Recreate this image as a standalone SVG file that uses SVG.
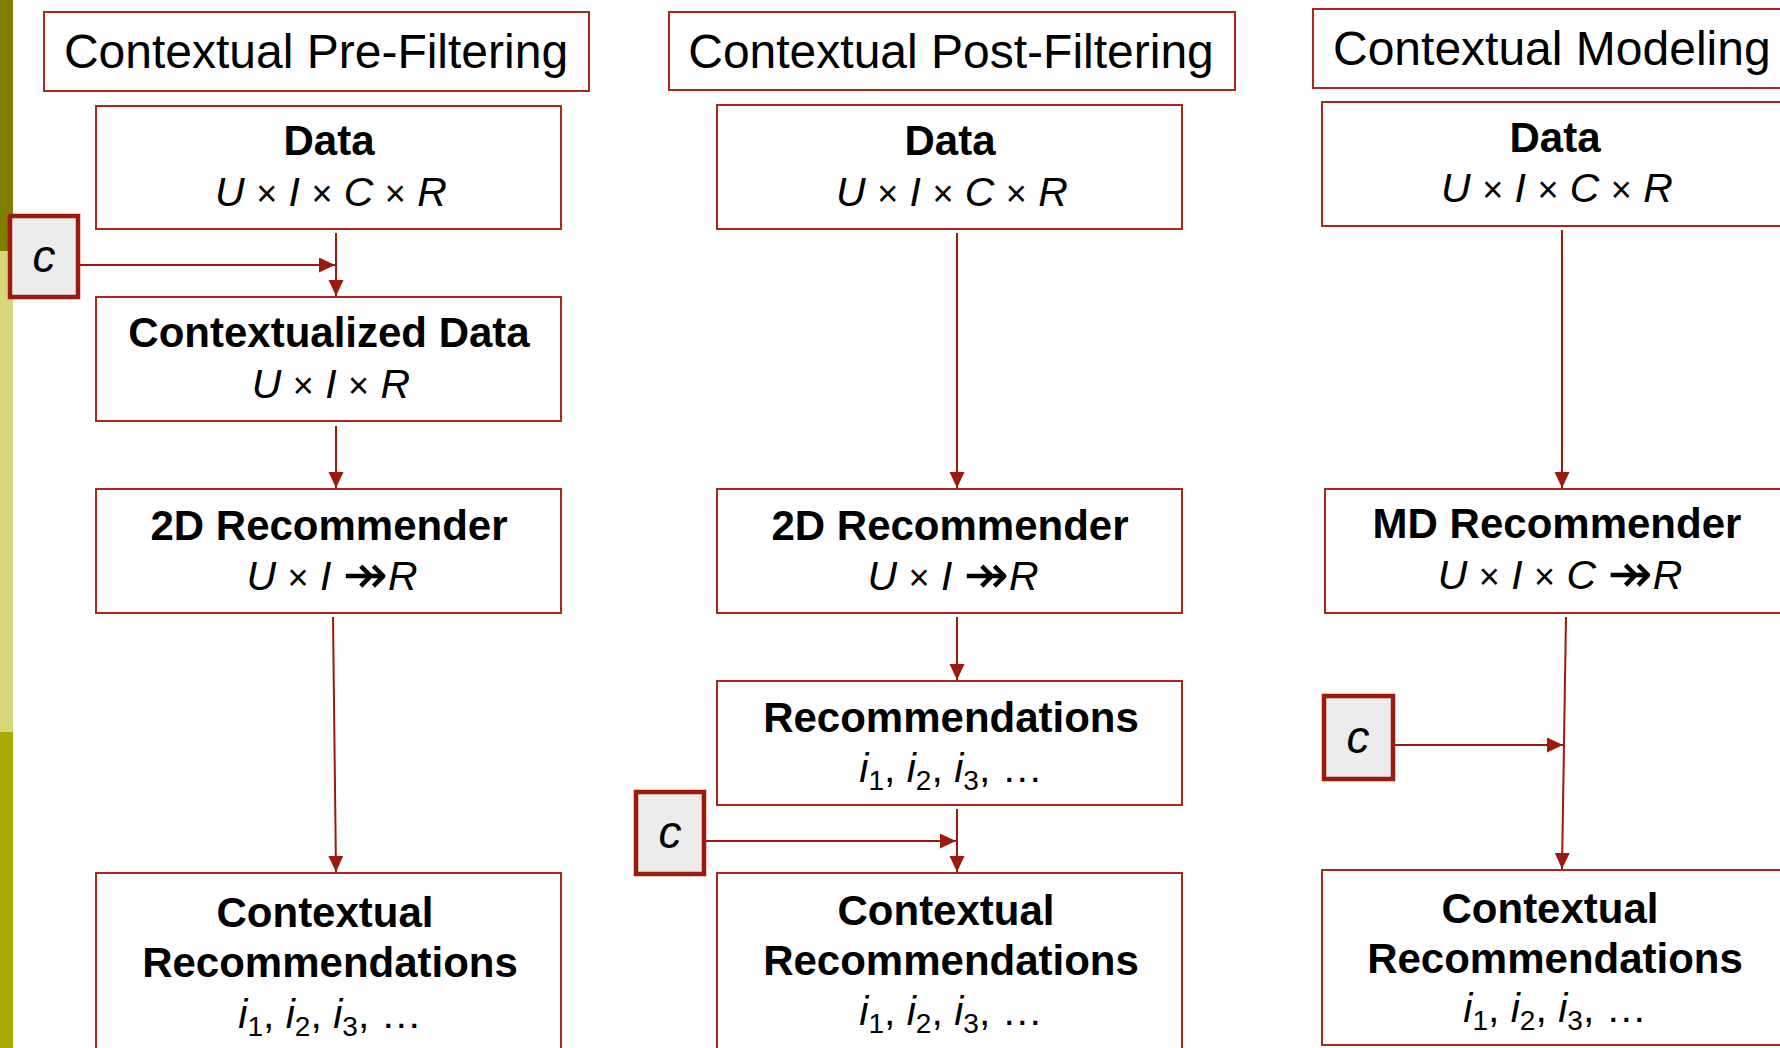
<svg xmlns="http://www.w3.org/2000/svg" width="1780" height="1048" viewBox="0 0 1780 1048">
  <style>
    .box { fill: #ffffff; stroke: #a8291d; stroke-width: 2; }
    .ctx { fill: #ececec; stroke: #9b1a0b; stroke-width: 4.5; }
    .head { font-family: "Liberation Sans", Arial, sans-serif; font-size: 48px; fill: #000; }
    .name { font-family: "Liberation Sans", Arial, sans-serif; font-size: 42px; font-weight: bold; fill: #000; text-anchor: middle; }
    .math { font-family: "Liberation Sans", Arial, sans-serif; font-size: 41px; fill: #000; text-anchor: middle; }
    .it { font-style: italic; }
    .x { font-size: 36px; }
    .sub { font-size: 28px; }
    .arr { font-family: "DejaVu Sans", sans-serif; font-style: normal; font-size: 54px; }
    .cvar { font-family: "Liberation Sans", Arial, sans-serif; font-size: 46px; font-style: italic; fill: #000; text-anchor: middle; }
    .link { fill: none; stroke: #9b1a0b; stroke-width: 2; }
  </style>
  <defs>
    <marker id="tip" markerUnits="userSpaceOnUse" markerWidth="16" markerHeight="16" refX="16" refY="7.5" orient="auto">
      <path d="M0,0 L16,7.5 L0,15 Z" fill="#9b1a0b"/>
    </marker>
  </defs>

  <!-- side strip -->
  <g id="strip">
    <rect x="0" y="0" width="13" height="251" fill="#7f7f00"/>
    <rect x="0" y="251" width="13" height="481" fill="#d6d67a"/>
    <rect x="0" y="732" width="13" height="316" fill="#aaaa00"/>
  </g>

  <!-- column 1: pre-filtering -->
  <g id="title-pre">
    <rect class="box" x="44" y="12" width="545" height="79"/>
    <text class="head" x="316" y="68" text-anchor="middle">Contextual Pre-Filtering</text>
  </g>
  <g id="data-pre">
    <rect class="box" x="96" y="106" width="465" height="123"/>
    <text class="name" x="329" y="155">Data</text>
    <text class="math" x="331" y="206"><tspan class="it">U</tspan> <tspan class="x">×</tspan> <tspan class="it">I</tspan> <tspan class="x">×</tspan> <tspan class="it">C</tspan> <tspan class="x">×</tspan> <tspan class="it">R</tspan></text>
  </g>
  <g id="c-pre">
    <rect class="ctx" x="10" y="216" width="68" height="81"/>
    <text class="cvar" x="44" y="272">c</text>
  </g>
  <g id="ctxdata-pre">
    <rect class="box" x="96" y="297" width="465" height="124"/>
    <text class="name" x="329" y="347">Contextualized Data</text>
    <text class="math" x="331" y="398"><tspan class="it">U</tspan> <tspan class="x">×</tspan> <tspan class="it">I</tspan> <tspan class="x">×</tspan> <tspan class="it">R</tspan></text>
  </g>
  <g id="rec2d-pre">
    <rect class="box" x="96" y="489" width="465" height="124"/>
    <text class="name" x="329" y="540">2D Recommender</text>
    <text class="math" x="332" y="590"><tspan class="it">U</tspan> <tspan class="x">×</tspan> <tspan class="it">I</tspan> <tspan class="arr" dy="3">↠</tspan><tspan class="it" dy="-3">R</tspan></text>
  </g>
  <g id="out-pre">
    <rect class="box" x="96" y="873" width="465" height="185"/>
    <text class="name" x="325" y="927">Contextual</text>
    <text class="name" x="330" y="977">Recommendations</text>
    <text class="math" x="330" y="1028"><tspan class="it">i</tspan><tspan class="sub" dy="8">1</tspan><tspan dy="-8">, </tspan><tspan class="it">i</tspan><tspan class="sub" dy="8">2</tspan><tspan dy="-8">, </tspan><tspan class="it">i</tspan><tspan class="sub" dy="8">3</tspan><tspan dy="-8">, …</tspan></text>
  </g>

  <!-- column 2: post-filtering -->
  <g id="title-post">
    <rect class="box" x="669" y="12" width="566" height="78"/>
    <text class="head" x="951" y="68" text-anchor="middle">Contextual Post-Filtering</text>
  </g>
  <g id="data-post">
    <rect class="box" x="717" y="105" width="465" height="124"/>
    <text class="name" x="950" y="155">Data</text>
    <text class="math" x="952" y="206"><tspan class="it">U</tspan> <tspan class="x">×</tspan> <tspan class="it">I</tspan> <tspan class="x">×</tspan> <tspan class="it">C</tspan> <tspan class="x">×</tspan> <tspan class="it">R</tspan></text>
  </g>
  <g id="rec2d-post">
    <rect class="box" x="717" y="489" width="465" height="124"/>
    <text class="name" x="950" y="540">2D Recommender</text>
    <text class="math" x="953" y="590"><tspan class="it">U</tspan> <tspan class="x">×</tspan> <tspan class="it">I</tspan> <tspan class="arr" dy="3">↠</tspan><tspan class="it" dy="-3">R</tspan></text>
  </g>
  <g id="recs-post">
    <rect class="box" x="717" y="681" width="465" height="124"/>
    <text class="name" x="951" y="732">Recommendations</text>
    <text class="math" x="951" y="782"><tspan class="it">i</tspan><tspan class="sub" dy="8">1</tspan><tspan dy="-8">, </tspan><tspan class="it">i</tspan><tspan class="sub" dy="8">2</tspan><tspan dy="-8">, </tspan><tspan class="it">i</tspan><tspan class="sub" dy="8">3</tspan><tspan dy="-8">, …</tspan></text>
  </g>
  <g id="c-post">
    <rect class="ctx" x="636" y="792" width="68" height="82"/>
    <text class="cvar" x="670" y="848">c</text>
  </g>
  <g id="out-post">
    <rect class="box" x="717" y="873" width="465" height="185"/>
    <text class="name" x="946" y="925">Contextual</text>
    <text class="name" x="951" y="975">Recommendations</text>
    <text class="math" x="951" y="1025"><tspan class="it">i</tspan><tspan class="sub" dy="8">1</tspan><tspan dy="-8">, </tspan><tspan class="it">i</tspan><tspan class="sub" dy="8">2</tspan><tspan dy="-8">, </tspan><tspan class="it">i</tspan><tspan class="sub" dy="8">3</tspan><tspan dy="-8">, …</tspan></text>
  </g>

  <!-- column 3: contextual modeling -->
  <g id="title-model">
    <rect class="box" x="1313" y="9" width="490" height="79"/>
    <text class="head" x="1333" y="65">Contextual Modeling</text>
  </g>
  <g id="data-model">
    <rect class="box" x="1322" y="102" width="465" height="124"/>
    <text class="name" x="1555" y="152">Data</text>
    <text class="math" x="1557" y="202"><tspan class="it">U</tspan> <tspan class="x">×</tspan> <tspan class="it">I</tspan> <tspan class="x">×</tspan> <tspan class="it">C</tspan> <tspan class="x">×</tspan> <tspan class="it">R</tspan></text>
  </g>
  <g id="recmd-model">
    <rect class="box" x="1325" y="489" width="465" height="124"/>
    <text class="name" x="1557" y="538">MD Recommender</text>
    <text class="math" x="1560" y="589"><tspan class="it">U</tspan> <tspan class="x">×</tspan> <tspan class="it">I</tspan> <tspan class="x">×</tspan> <tspan class="it">C</tspan> <tspan class="arr" dy="3">↠</tspan><tspan class="it" dy="-3">R</tspan></text>
  </g>
  <g id="c-model">
    <rect class="ctx" x="1324" y="696" width="69" height="83"/>
    <text class="cvar" x="1358" y="753">c</text>
  </g>
  <g id="out-model">
    <rect class="box" x="1322" y="870" width="465" height="175"/>
    <text class="name" x="1550" y="923">Contextual</text>
    <text class="name" x="1555" y="973">Recommendations</text>
    <text class="math" x="1555" y="1022"><tspan class="it">i</tspan><tspan class="sub" dy="8">1</tspan><tspan dy="-8">, </tspan><tspan class="it">i</tspan><tspan class="sub" dy="8">2</tspan><tspan dy="-8">, </tspan><tspan class="it">i</tspan><tspan class="sub" dy="8">3</tspan><tspan dy="-8">, …</tspan></text>
  </g>

  <!-- connectors -->
  <g id="connectors">
    <line class="link" x1="336" y1="233" x2="336" y2="296" marker-end="url(#tip)"/>
    <line class="link" x1="78" y1="265" x2="335" y2="265" marker-end="url(#tip)"/>
    <line class="link" x1="336" y1="426" x2="336" y2="488" marker-end="url(#tip)"/>
    <line class="link" x1="333" y1="617" x2="336" y2="872" marker-end="url(#tip)"/>

    <line class="link" x1="957" y1="233" x2="957" y2="488" marker-end="url(#tip)"/>
    <line class="link" x1="957" y1="617" x2="957" y2="680" marker-end="url(#tip)"/>
    <line class="link" x1="957" y1="809" x2="957" y2="872" marker-end="url(#tip)"/>
    <line class="link" x1="704" y1="841" x2="956" y2="841" marker-end="url(#tip)"/>

    <line class="link" x1="1562" y1="230" x2="1562" y2="488" marker-end="url(#tip)"/>
    <line class="link" x1="1566" y1="617" x2="1562" y2="869" marker-end="url(#tip)"/>
    <line class="link" x1="1393" y1="745" x2="1563" y2="745" marker-end="url(#tip)"/>
  </g>
</svg>
